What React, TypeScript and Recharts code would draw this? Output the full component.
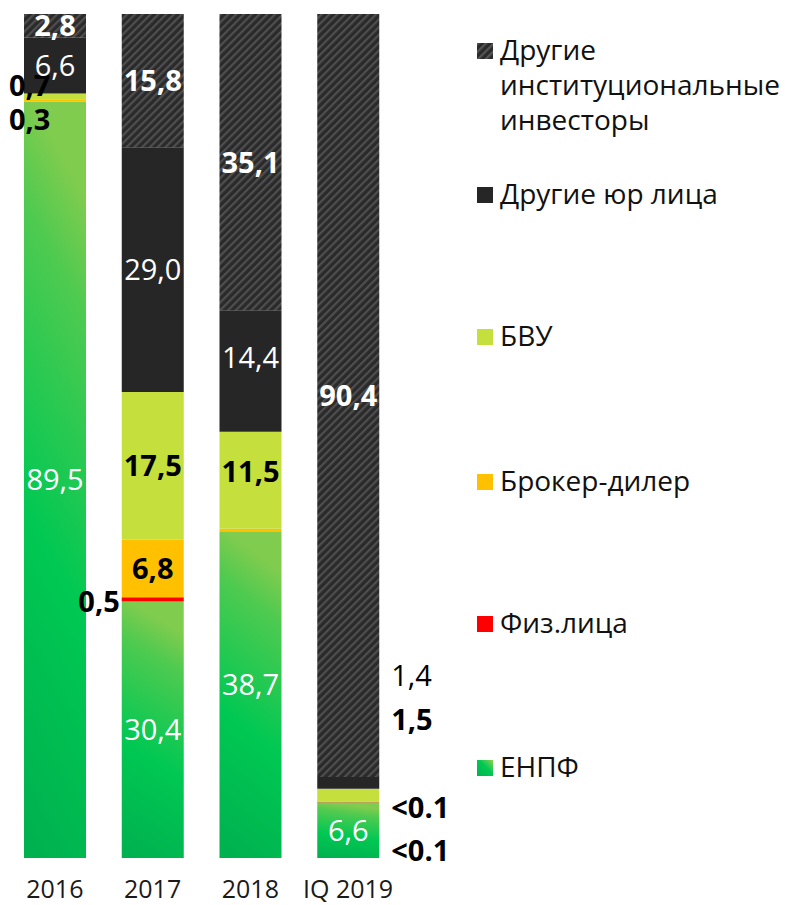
import React from 'react';
import { BarChart, Bar, XAxis, YAxis, LabelList } from 'recharts';

const years = ['2016', '2017', '2018', 'IQ 2019'];

// values, % of holders
const enpf = [89.5, 30.4, 38.7, 6.6];
const fiz = [0, 0.5, 0, 0.05];
const broker = [0.3, 6.8, 0.3, 0.05];
const bvu = [0.7, 17.5, 11.5, 1.5];
const yur = [6.6, 29.0, 14.4, 1.4];
const inst = [2.8, 15.8, 35.1, 90.4];

// texts written on the bars
const enpfLabels = ['89,5', '30,4', '38,7', '6,6'];
const fizLabels = ['', '0,5', '', '<0.1'];
const brokerLabels = ['0,3', '6,8', '', '<0.1'];
const bvuLabels = ['0,7', '17,5', '11,5', '1,5'];
const yurLabels = ['6,6', '29,0', '14,4', '1,4'];
const instLabels = ['2,8', '15,8', '35,1', '90,4'];

const legendItems = [
  { key: 'inst', name: 'Другие институциональные инвесторы' },
  { key: 'yur', name: 'Другие юр лица' },
  { key: 'bvu', name: 'БВУ' },
  { key: 'broker', name: 'Брокер-дилер' },
  { key: 'fiz', name: 'Физ.лица' },
  { key: 'enpf', name: 'ЕНПФ' },
];

const data = years.map((year, i) => ({
  year,
  enpf: enpf[i],
  fiz: fiz[i],
  broker: broker[i],
  bvu: bvu[i],
  yur: yur[i],
  inst: inst[i],
}));

const FONT = "'Open Sans', sans-serif";
const colors: Record<string, string> = {
  enpf: 'url(#enpfGrad)',
  fiz: '#ff0000',
  broker: '#ffc000',
  bvu: '#c5df3d',
  yur: '#262626',
  inst: 'url(#hatch)',
};

type Place = { side?: 'left' | 'over' | 'right'; dx?: number; dy?: number; fill?: string; weight?: number };

// small segments get their numbers moved beside the bar
const placement: Record<string, Place> = {
  bvu0: { side: 'over', dx: -15, dy: -11 },
  broker0: { side: 'over', dx: -15, dy: 19 },
  fiz1: { side: 'left', dx: -2, dy: 2 },
  enpf2: { dy: -10 },
  bvu2: { dy: -9 },
  yur2: { dy: -13 },
  yur3: { side: 'right', dx: 12, dy: -107, fill: '#000', weight: 400 },
  bvu3: { side: 'right', dx: 12, dy: -76 },
  broker3: { side: 'right', dx: 12, dy: 6 },
  fiz3: { side: 'right', dx: 12, dy: 48 },
};

const makeLabel = (key: string, texts: string[], fill: string, weight: number) => (props: any) => {
  const vb = props.viewBox || props;
  const x = Number(vb.x ?? props.x);
  const y = Number(vb.y ?? props.y);
  const width = Number(vb.width ?? props.width);
  const height = Number(vb.height ?? props.height);
  const index = years.indexOf(String(props.value));
  const text = texts[index];
  if (!text) return null;
  const o = placement[`${key}${index}`] || {};
  const top = Math.min(y, y + height);
  const cy = top + Math.abs(height) / 2 + (o.dy || 0);
  let tx = x + width / 2 + (o.dx || 0);
  let anchor: 'start' | 'middle' | 'end' = 'middle';
  if (o.side === 'over') {
    tx = x + (o.dx || 0);
    anchor = 'start';
  } else if (o.side === 'left') {
    tx = x + (o.dx || 0);
    anchor = 'end';
  } else if (o.side === 'right') {
    tx = x + width + (o.dx || 0);
    anchor = 'start';
  }
  return (
    <text
      x={tx}
      y={cy}
      dy='0.36em'
      textAnchor={anchor}
      fill={o.fill || fill}
      fontWeight={o.weight || weight}
      fontSize={29}
      fontFamily={FONT}
    >
      {text}
    </text>
  );
};

const Marker = ({ k }: { k: string }) => (
  <svg width={16} height={16} style={{ flex: 'none', marginTop: 11 }}>
    <defs>
      <pattern id='hatchLeg' patternUnits='userSpaceOnUse' width='5.5' height='5.5' patternTransform='rotate(45)'>
        <rect width='5.5' height='5.5' fill='#2a2a2a' />
        <rect width='2.2' height='5.5' fill='#555' />
      </pattern>
      <linearGradient id='enpfLeg' x1='0' y1='1' x2='1' y2='0'>
        <stop offset='0' stopColor='#00b450' />
        <stop offset='0.55' stopColor='#00c853' />
        <stop offset='1' stopColor='#8fd14f' />
      </linearGradient>
    </defs>
    <rect
      width={16}
      height={16}
      fill={k === 'inst' ? 'url(#hatchLeg)' : k === 'enpf' ? 'url(#enpfLeg)' : colors[k]}
    />
  </svg>
);

const legendTops = [32, 176, 318, 463, 605, 749];

const App: React.FC = () => {
  return (
    <div style={{ position: 'absolute', left: 0, top: 0, width: 785, height: 905 }}>
      <BarChart
        width={785}
        height={905}
        data={data}
        stackOffset='expand'
        margin={{ top: 14, right: 388, left: 6, bottom: 0 }}
        barSize={62}
      >
        <defs>
          <pattern id='hatch' patternUnits='userSpaceOnUse' width='5.5' height='5.5' patternTransform='rotate(45)'>
            <rect width='5.5' height='5.5' fill='#2a2a2a' />
            <rect width='2.2' height='5.5' fill='#4f4f4f' />
          </pattern>
          <linearGradient id='enpfGrad' x1='0' y1='1' x2='0.15' y2='0'>
            <stop offset='0' stopColor='#00b04f' />
            <stop offset='0.45' stopColor='#00c853' />
            <stop offset='0.85' stopColor='#4fca50' />
            <stop offset='1' stopColor='#80cc4e' />
          </linearGradient>
        </defs>
        <XAxis
          dataKey='year'
          axisLine={false}
          tickLine={false}
          interval={0}
          height={47}
          tickMargin={16}
          tick={{ fill: '#1a1a1a', fontSize: 25, fontFamily: FONT }}
        />
        <YAxis hide domain={[0, 1]} />
        <Bar dataKey='enpf' stackId='a' fill={colors.enpf} isAnimationActive={false}>
          <LabelList dataKey='year' content={makeLabel('enpf', enpfLabels, '#fff', 400)} />
        </Bar>
        <Bar dataKey='fiz' stackId='a' fill={colors.fiz} isAnimationActive={false}>
          <LabelList dataKey='year' content={makeLabel('fiz', fizLabels, '#000', 700)} />
        </Bar>
        <Bar dataKey='broker' stackId='a' fill={colors.broker} isAnimationActive={false}>
          <LabelList dataKey='year' content={makeLabel('broker', brokerLabels, '#000', 700)} />
        </Bar>
        <Bar dataKey='bvu' stackId='a' fill={colors.bvu} isAnimationActive={false}>
          <LabelList dataKey='year' content={makeLabel('bvu', bvuLabels, '#000', 700)} />
        </Bar>
        <Bar dataKey='yur' stackId='a' fill={colors.yur} isAnimationActive={false}>
          <LabelList dataKey='year' content={makeLabel('yur', yurLabels, '#fff', 400)} />
        </Bar>
        <Bar dataKey='inst' stackId='a' fill={colors.inst} isAnimationActive={false}>
          <LabelList dataKey='year' content={makeLabel('inst', instLabels, '#fff', 700)} />
        </Bar>
      </BarChart>
      {legendItems.map((item, i) => (
        <div
          key={item.key}
          style={{
            position: 'absolute',
            left: 477,
            top: legendTops[i],
            width: 308,
            display: 'flex',
            alignItems: 'flex-start',
            fontFamily: FONT,
            fontSize: 28,
            lineHeight: '35px',
            color: '#111',
          }}
        >
          <Marker k={item.key} />
          <span style={{ marginLeft: 7 }}>{item.name}</span>
        </div>
      ))}
    </div>
  );
};

export default App;
